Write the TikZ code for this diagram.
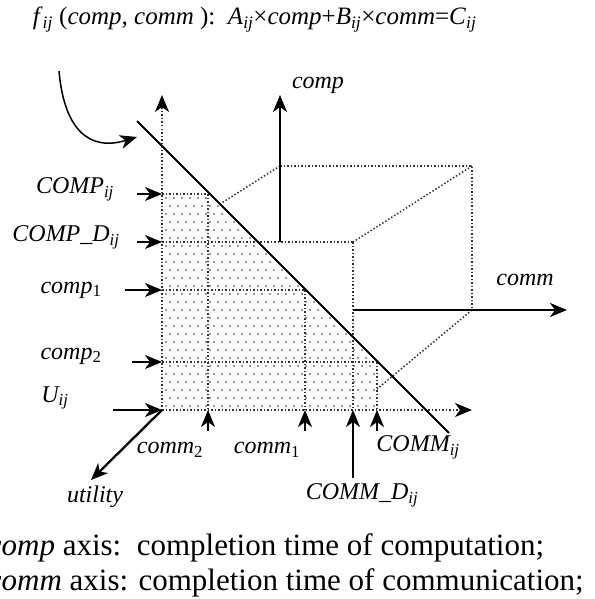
\documentclass[tikz,border=0pt]{standalone}
\usepackage{fontspec}
\setmainfont{Liberation Serif}
\usetikzlibrary{arrows.meta}

\begin{document}
\begin{tikzpicture}[x=1pt, y=-1pt, line width=1.8pt,
  tip/.style={-{Stealth[length=17pt,width=14pt,inset=5pt,color=black]}},
  gridline/.style={dotted, line width=1.5pt, black!80},
  lbl/.style={font=\fontsize{24}{27}\selectfont\itshape, inner sep=0pt}]
  \useasboundingbox (0,0) rectangle (594,599);
  % axes
  \coordinate (O) at (162,410);
  \coordinate (Ytop) at (162,95);
  \coordinate (Xend) at (472,410);
  \coordinate (Uend) at (91,480);
  \coordinate (CA) at (280,242);
  \coordinate (CAtop) at (280,95);
  \coordinate (MA) at (353,310);
  \coordinate (MAend) at (567,310);
  % the line f_ij
  \coordinate (L1) at (137,121);
  \coordinate (L2) at (449,433);
  % box corners
  \coordinate (B1) at (280,166);
  \coordinate (B2) at (472,166);
  \coordinate (B3) at (472,310);
  \coordinate (B4) at (353,242);
  \coordinate (B5) at (220,204);
  \coordinate (B6) at (377,389);
  % levels on the comp axis
  \coordinate (yCij) at (162,194);
  \coordinate (yCD)  at (162,242);
  \coordinate (yC1)  at (162,290);
  \coordinate (yC2)  at (162,362);
  % levels on the comm axis
  \coordinate (xM2)  at (208,410);
  \coordinate (xM1)  at (305,410);
  \coordinate (xMD)  at (353,410);
  \coordinate (xMij) at (377,410);

  % stippled region
  \begin{scope}
    \clip (yCij) -- (210,194) -- (377,361) -- (xMij) -- (O) -- cycle;
    \foreach \r in {0,...,27}
      \foreach \c in {0,...,27}
        \fill[black!80] ({166+8*\c+4*mod(\r,2)},{406-8*\r}) circle (0.9);
  \end{scope}

  % grid
  \draw[gridline] (yCij) -- (210,194);
  \draw[gridline] (yCD) -- (B4);
  \draw[gridline] (yC1) -- (305,290);
  \draw[gridline] (yC2) -- (377,362);
  \draw[gridline] (208,194) -- (xM2);
  \draw[gridline] (305,290) -- (xM1);
  \draw[gridline] (B4) -- (xMD);
  \draw[gridline] (377,362) -- (xMij);

  % box
  \draw[gridline] (B1) -- (B2) -- (B3);
  \draw[gridline] (B2) -- (B4);
  \draw[gridline] (B1) -- (B5);
  \draw[gridline] (B3) -- (B6);

  \draw[gridline, tip] (O) -- (Ytop);
  \draw[gridline, tip] (O) -- (Xend);
  \draw[tip, line width=2.4pt] (CA) -- (CAtop);
  \draw[tip, line width=2.4pt] (MA) -- (MAend);
  \draw[tip, line width=2.3pt] (O) -- (Uend);
  \draw[line width=2pt] (L1) -- (L2);
  \draw[tip, line width=1.5pt] (59,71) .. controls (64,128) and (88,152) .. (137,137);

  % label arrows
  \draw[tip] (137,194) -- (yCij);
  \draw[tip] (137,242) -- (yCD);
  \draw[tip] (125,290) -- (yC1);
  \draw[tip] (132,362) -- (yC2);
  \draw[tip] (113,410) -- (O);
  \draw[tip] (208,431) -- (xM2);
  \draw[tip] (305,431) -- (xM1);
  \draw[tip, line width=1.4pt] (353,478) -- (xMD);
  \draw[tip] (377,431) -- (xMij);

  % labels
  \node[lbl] (tCij) at (75,189) {COMP\textsubscript{ij}};
  \node[lbl] (tCD)  at (66,237) {COMP\_D\textsubscript{ij}};
  \node[lbl] (tC1)  at (71,290) {comp\textsubscript{\upshape 1}};
  \node[lbl] (tC2)  at (71,356) {comp\textsubscript{\upshape 2}};
  \node[lbl] (tU)   at (55,398) {U\textsubscript{ij}};
  \node[lbl] (tM2)  at (170,450) {comm\textsubscript{\upshape 2}};
  \node[lbl] (tM1)  at (267,450) {comm\textsubscript{\upshape 1}};
  \node[lbl] (tMD)  at (362,495) {COMM\_D\textsubscript{ij}};
  \node[lbl] (tMij) at (418,447) {COMM\textsubscript{ij}};
  \node[lbl] (tUt)  at (95,497) {utility};
  \node[lbl] (tcomp) at (318,85) {comp};
  \node[lbl] (tcomm) at (525,280) {comm};

  % formula and legend
  \node[anchor=base west, inner sep=0pt, font=\fontsize{25}{28}\selectfont] (title) at (32,25)
    {\textit{f}\textsubscript{\itshape ij} (\textit{comp, comm} ):\ \ \textit{A}\textsubscript{\itshape ij}×\textit{comp}+\textit{B}\textsubscript{\itshape ij}×\textit{comm}=\textit{C}\textsubscript{\itshape ij}};
  \node[anchor=base west, inner sep=0pt, font=\fontsize{31}{35}\selectfont] (leg1) at (-13,555)
    {\textit{comp} axis:\ \ completion time of computation;};
  \node[anchor=base west, inner sep=0pt, font=\fontsize{31}{35}\selectfont] (leg2) at (-13,590)
    {\textit{comm} axis: completion time of communication;};
\end{tikzpicture}
\end{document}
